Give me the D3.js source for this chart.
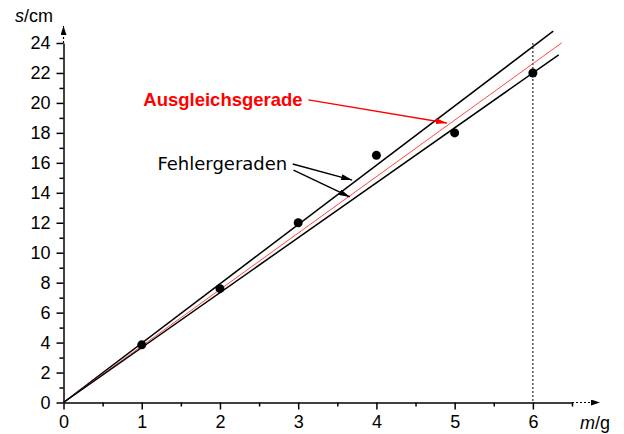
<!DOCTYPE html>
<html>
<head>
<meta charset="utf-8">
<script src="https://cdn.jsdelivr.net/npm/d3@7"></script>
<style>
  html, body { margin: 0; padding: 0; background: #fff; }
  svg { display: block; }
</style>
</head>
<body>
<svg id="chart" width="624" height="434" font-family="Liberation Sans, Arial, sans-serif"></svg>
<script>
// Messwerte: Masse m in g, Auslenkung s in cm
const masses = [1, 2, 3, 4, 5, 6];
const lengths = [3.85, 7.6, 12.0, 16.5, 18.0, 22.0];

// Geraden durch den Ursprung: Steigung (cm/g) und Endpunkt in m
const lineNames = ["upper", "fit", "lower"];
const lineSlopes = [3.96, 3.77, 3.667];
const lineEnds = [6.26, 6.37, 6.33];

const xTicks = [0, 1, 2, 3, 4, 5, 6];
const xMinor = [0.5, 1.5, 2.5, 3.5, 4.5, 5.5, 6.5];
const yTicks = [0, 2, 4, 6, 8, 10, 12, 14, 16, 18, 20, 22, 24];
const yMinor = [1, 3, 5, 7, 9, 11, 13, 15, 17, 19, 21, 23];

// Beschriftungen (Position in Datenkoordinaten)
const labelTexts = ["Ausgleichsgerade", "Fehlergeraden"];
const labelPos = [[1.02, 19.8], [1.2, 15.5]];
const arrowFrom = [[3.13, 20.2], [2.93, 15.92], [2.94, 15.52]];
const arrowTo = [[4.9, 18.66], [3.69, 14.85], [3.66, 13.72]];
const arrowColors = ["#ff0000", "#000", "#000"];

const svg = d3.select("#chart");

const x = d3.scaleLinear().domain([0, 6.5]).range([63.5, 572]);
const y = d3.scaleLinear().domain([0, 24]).range([402.5, 43]);

// Pfeilspitzen
const defs = svg.append("defs");
function marker(id, color, w, h) {
  defs.append("marker")
    .attr("id", id)
    .attr("viewBox", `0 0 ${w} ${h}`)
    .attr("refX", w).attr("refY", h / 2)
    .attr("markerWidth", w).attr("markerHeight", h)
    .attr("markerUnits", "userSpaceOnUse")
    .attr("orient", "auto")
    .append("path")
    .attr("d", `M0,0L${w},${h / 2}L0,${h}Z`)
    .attr("fill", color);
}
marker("ah-red", "#ff0000", 11, 6);
marker("ah-black", "#000", 11, 6);
marker("ah-axis", "#000", 9, 6);

// x-Achse
const gx = svg.append("g").attr("transform", `translate(0,${y(0)})`);
gx.call(d3.axisBottom(x).tickValues(xTicks).tickSize(7).tickSizeOuter(0).tickPadding(6)
    .tickFormat(d3.format("d")));
gx.append("g").call(d3.axisBottom(x).tickValues(xMinor).tickSize(4).tickFormat(""))
  .select(".domain").remove();
gx.selectAll("path, line").attr("stroke", "#000").attr("stroke-width", 1.5);
gx.selectAll("text").attr("font-size", 18).attr("fill", "#000")
  .attr("font-family", "Liberation Sans, Arial, sans-serif");

// y-Achse
const gy = svg.append("g").attr("transform", `translate(${x(0)},0)`);
gy.call(d3.axisLeft(y).tickValues(yTicks).tickSize(7).tickSizeOuter(0).tickPadding(6)
    .tickFormat(d3.format("d")));
gy.append("g").call(d3.axisLeft(y).tickValues(yMinor).tickSize(4).tickFormat(""))
  .select(".domain").remove();
gy.selectAll("path, line").attr("stroke", "#000").attr("stroke-width", 1.5);
gy.selectAll("text").attr("font-size", 18).attr("fill", "#000")
  .attr("font-family", "Liberation Sans, Arial, sans-serif");

// Achsenverlängerungen mit Pfeil
svg.append("line")
  .attr("x1", x(6.5)).attr("y1", y(0)).attr("x2", x(6.5) + 28).attr("y2", y(0))
  .attr("stroke", "#000").attr("stroke-width", 1.2).attr("stroke-dasharray", "2,2")
  .attr("marker-end", "url(#ah-axis)");
svg.append("line")
  .attr("x1", x(0)).attr("y1", y(24)).attr("x2", x(0)).attr("y2", y(24) - 17)
  .attr("stroke", "#000").attr("stroke-width", 1.2).attr("stroke-dasharray", "2,2")
  .attr("marker-end", "url(#ah-axis)");

// Achsenbeschriftungen
const sLab = svg.append("text").attr("x", 15).attr("y", 22).attr("font-size", 18);
sLab.append("tspan").attr("font-style", "italic").text("s");
sLab.append("tspan").text("/cm");
const mLab = svg.append("text").attr("x", 580).attr("y", 429).attr("font-size", 18);
mLab.append("tspan").attr("font-style", "italic").text("m");
mLab.append("tspan").text("/g");

// senkrechte Hilfslinie bei m = 6 g
svg.append("line")
  .attr("x1", x(6)).attr("x2", x(6)).attr("y1", y(24)).attr("y2", y(0))
  .attr("stroke", "#000").attr("stroke-width", 1).attr("stroke-dasharray", "2,2");

// Geraden
const lineData = lineNames.map((n, i) => ({ name: n, slope: lineSlopes[i], end: lineEnds[i] }));
svg.append("g").selectAll("line").data(lineData).join("line")
  .attr("x1", x(0)).attr("y1", y(0))
  .attr("x2", d => x(d.end)).attr("y2", d => y(d.slope * d.end))
  .attr("stroke", d => d.name === "fit" ? "#ff3333" : "#000")
  .attr("stroke-width", d => d.name === "fit" ? 0.9 : 1.5);

// Messpunkte
svg.append("g").selectAll("circle").data(masses).join("circle")
  .attr("cx", d => x(d)).attr("cy", (d, i) => y(lengths[i]))
  .attr("r", 4.5).attr("fill", "#000");

// Hinweispfeile
svg.append("g").selectAll("line").data(arrowFrom).join("line")
  .attr("x1", d => x(d[0])).attr("y1", d => y(d[1]))
  .attr("x2", (d, i) => x(arrowTo[i][0])).attr("y2", (d, i) => y(arrowTo[i][1]))
  .attr("stroke", (d, i) => arrowColors[i]).attr("stroke-width", 1.4)
  .attr("marker-end", (d, i) => i === 0 ? "url(#ah-red)" : "url(#ah-black)");

// Texte
svg.append("text")
  .attr("x", x(labelPos[0][0])).attr("y", y(labelPos[0][1]))
  .attr("font-size", 18.5).attr("font-weight", "bold").attr("fill", "#ff0000")
  .text(labelTexts[0]);
svg.append("text")
  .attr("x", x(labelPos[1][0])).attr("y", y(labelPos[1][1]))
  .attr("font-family", "DejaVu Sans").attr("font-size", 18).attr("fill", "#000")
  .text(labelTexts[1]);
</script>
</body>
</html>
